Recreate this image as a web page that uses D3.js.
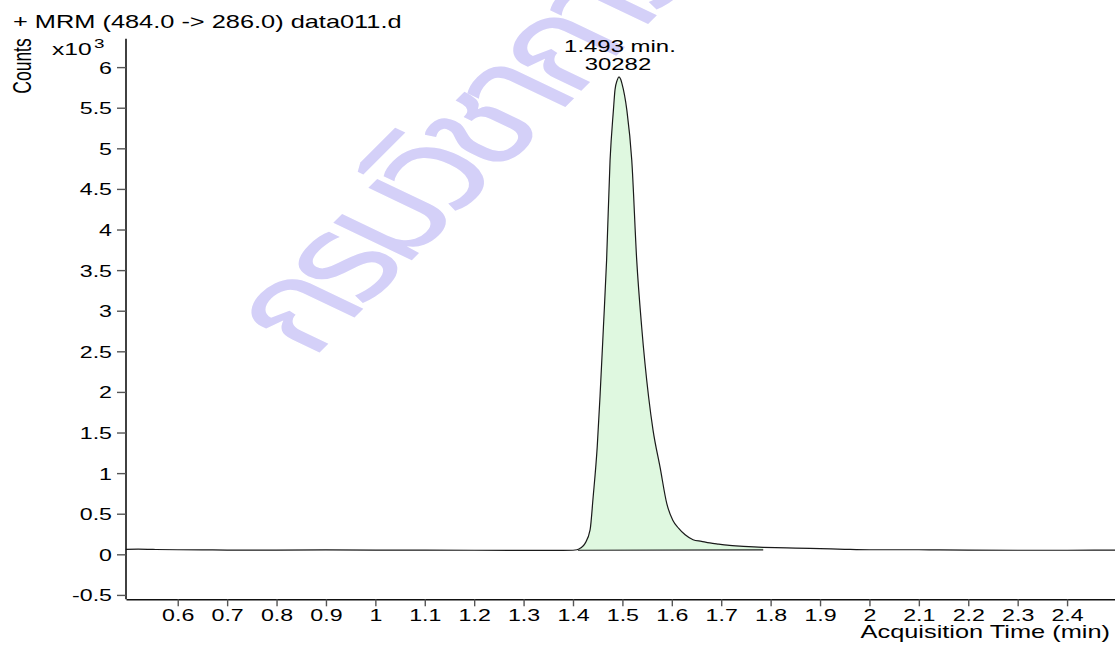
<!DOCTYPE html>
<html>
<head>
<meta charset="utf-8">
<script src="https://cdn.jsdelivr.net/npm/d3@7"></script>
<style>
  html, body { margin: 0; padding: 0; background: #fff; }
  svg { display: block; }
  text { font-family: "Liberation Sans", Arial, sans-serif; fill: #000; }
</style>
</head>
<body>
<svg id="chart" width="1115" height="645"></svg>
<script>
// ---- data (counts in x10^3) ----
const times = [0.495, 0.52, 0.55, 0.60, 0.65, 0.70, 0.80, 0.90, 1.00, 1.10, 1.20, 1.30, 1.38, 1.400, 1.408,
  1.416, 1.4245, 1.4346, 1.4407, 1.449, 1.455, 1.4616, 1.468, 1.475, 1.4818, 1.485, 1.4895, 1.493,
  1.4965, 1.499, 1.509, 1.519, 1.529, 1.539, 1.553, 1.562, 1.5763, 1.590, 1.602, 1.614, 1.627, 1.643,
  1.660, 1.677, 1.695, 1.712, 1.745, 1.785, 1.81, 1.85, 1.90, 1.95, 2.00, 2.10, 2.20, 2.30, 2.40, 2.497];
const counts = [0.062, 0.063, 0.060, 0.056, 0.055, 0.052, 0.052, 0.054, 0.052, 0.051, 0.050, 0.049, 0.049, 0.050, 0.056,
  0.08, 0.135, 0.30, 0.70, 1.32, 1.98, 2.80, 3.62, 4.85, 5.47, 5.72, 5.84, 5.88,
  5.85, 5.80, 5.47, 4.85, 3.62, 2.80, 1.94, 1.53, 1.07, 0.62, 0.42, 0.32, 0.24, 0.18,
  0.16, 0.14, 0.125, 0.112, 0.098, 0.086, 0.082, 0.077, 0.071, 0.062, 0.056, 0.056, 0.052, 0.050, 0.050, 0.052];
const peakStart = 1.410, peakEnd = 1.785;
const baseStart = 0.050, baseEnd = 0.055;
const peakRT = "1.493 min.";
const peakArea = "30282";
const yTicks = [-0.5, 0, 0.5, 1, 1.5, 2, 2.5, 3, 3.5, 4, 4.5, 5, 5.5, 6];
const xTicks = [0.6, 0.7, 0.8, 0.9, 1.0, 1.1, 1.2, 1.3, 1.4, 1.5, 1.6, 1.7, 1.8, 1.9, 2.0, 2.1, 2.2, 2.3, 2.4];
const title = "+ MRM (484.0 -> 286.0) data011.d";
const xTitle = "Acquisition Time (min)";
const yTitle = "Counts";
const watermark = "กรมวิชาการเกษตร";

// ---- layout ----
const SX = 1.45; // horizontal stretch of text in the reference
const svg = d3.select("#chart");
const x = d3.scaleLinear().domain([0.4953, 2.497]).range([126, 1115]);
const y = d3.scaleLinear().domain([-0.554, 6.35]).range([599.3, 38.7]);

// watermark
svg.append("text")
  .attr("transform", `translate(312,360) scale(${SX},1) rotate(-55.4)`)
  .style("font-family", "'Noto Sans Thai', 'Noto Sans', 'DejaVu Sans', sans-serif")
  .attr("font-size", 120)
  .attr("letter-spacing", -10)
  .style("fill", "#d4d0f8")
  .text(watermark);

// peak fill
const pts = times.map((t, i) => ({t, v: counts[i]}));
const inPeak = pts.filter(d => d.t > peakStart && d.t < peakEnd);
const interp = d3.scaleLinear().domain([peakStart, peakEnd]).range([baseStart, baseEnd]);
const curveVal = d3.scaleLinear().domain(times).range(counts);
const fillPts = [{t: peakStart, v: curveVal(peakStart)}, ...inPeak, {t: peakEnd, v: curveVal(peakEnd)}];
svg.append("path")
  .datum(fillPts)
  .attr("d", d3.area().x(d => x(d.t)).y0(d => y(interp(d.t))).y1(d => y(d.v)).curve(d3.curveMonotoneX))
  .attr("fill", "#dff8e0");
// integration baseline
svg.append("line")
  .attr("x1", x(peakStart)).attr("x2", x(peakEnd))
  .attr("y1", y(baseStart)).attr("y2", y(baseEnd))
  .attr("stroke", "#222").attr("stroke-width", 1.2);

// chromatogram
svg.append("path")
  .datum(pts)
  .attr("d", d3.line().x(d => x(d.t)).y(d => y(d.v)).curve(d3.curveMonotoneX))
  .attr("fill", "none").attr("stroke", "#1a1a1a").attr("stroke-width", 1.2);

// axes
const fmt = d => (Math.round(d * 10) / 10).toString();
const yAxis = d3.axisLeft(y).tickValues(yTicks).tickFormat(fmt).tickSize(9).tickPadding(0).tickSizeOuter(0);
const gy = svg.append("g").attr("transform", "translate(126,0)").call(yAxis);
gy.select(".domain").attr("d", `M0,${y.range()[1]}V${y.range()[0]}`).attr("stroke", "#111").attr("stroke-width", 1.6);
gy.selectAll(".tick line").attr("stroke", "#555").attr("stroke-width", 1.4);
gy.selectAll(".tick text")
  .attr("x", null).attr("dy", null)
  .attr("transform", `translate(-14,6) scale(${SX},1)`)
  .attr("font-size", 16).style("font-family", "'Liberation Sans', Arial, sans-serif");

const xAxis = d3.axisBottom(x).tickValues(xTicks).tickFormat(fmt).tickSize(7).tickPadding(0).tickSizeOuter(0);
const gx = svg.append("g").attr("transform", "translate(0,599.3)").call(xAxis);
gx.select(".domain").attr("stroke", "#111").attr("stroke-width", 1.6);
gx.selectAll(".tick line").attr("stroke", "#555").attr("stroke-width", 1.4);
gx.selectAll(".tick text")
  .attr("y", null).attr("dy", null)
  .attr("transform", `translate(0,21.5) scale(${SX},1)`)
  .attr("font-size", 16).style("font-family", "'Liberation Sans', Arial, sans-serif");

// titles
svg.append("text").attr("transform", `translate(13,28) scale(${SX},1)`).attr("font-size", 17.5).text(title);
svg.append("text").attr("transform", `translate(1110,638) scale(${SX},1)`).attr("text-anchor", "end").attr("font-size", 17.5).text(xTitle);
svg.append("text").attr("transform", `translate(31,66) scale(${SX},1) rotate(-90)`).attr("text-anchor", "middle").attr("font-size", 17.5).text(yTitle);
svg.append("text").attr("transform", `translate(52,55) scale(${SX},1)`).attr("font-size", 17).text("x10");
svg.append("text").attr("transform", `translate(94,48) scale(${SX},1)`).attr("font-size", 13).text("3");

// peak annotation
const peakIdx = d3.maxIndex(counts);
svg.append("text").attr("transform", `translate(${x(times[peakIdx]) + 1},52) scale(${SX},1)`).attr("text-anchor", "middle").attr("font-size", 16.5).text(peakRT);
svg.append("text").attr("transform", `translate(${x(times[peakIdx]) - 1},70) scale(${SX},1)`).attr("text-anchor", "middle").attr("font-size", 16.5).text(peakArea);
</script>
</body>
</html>
